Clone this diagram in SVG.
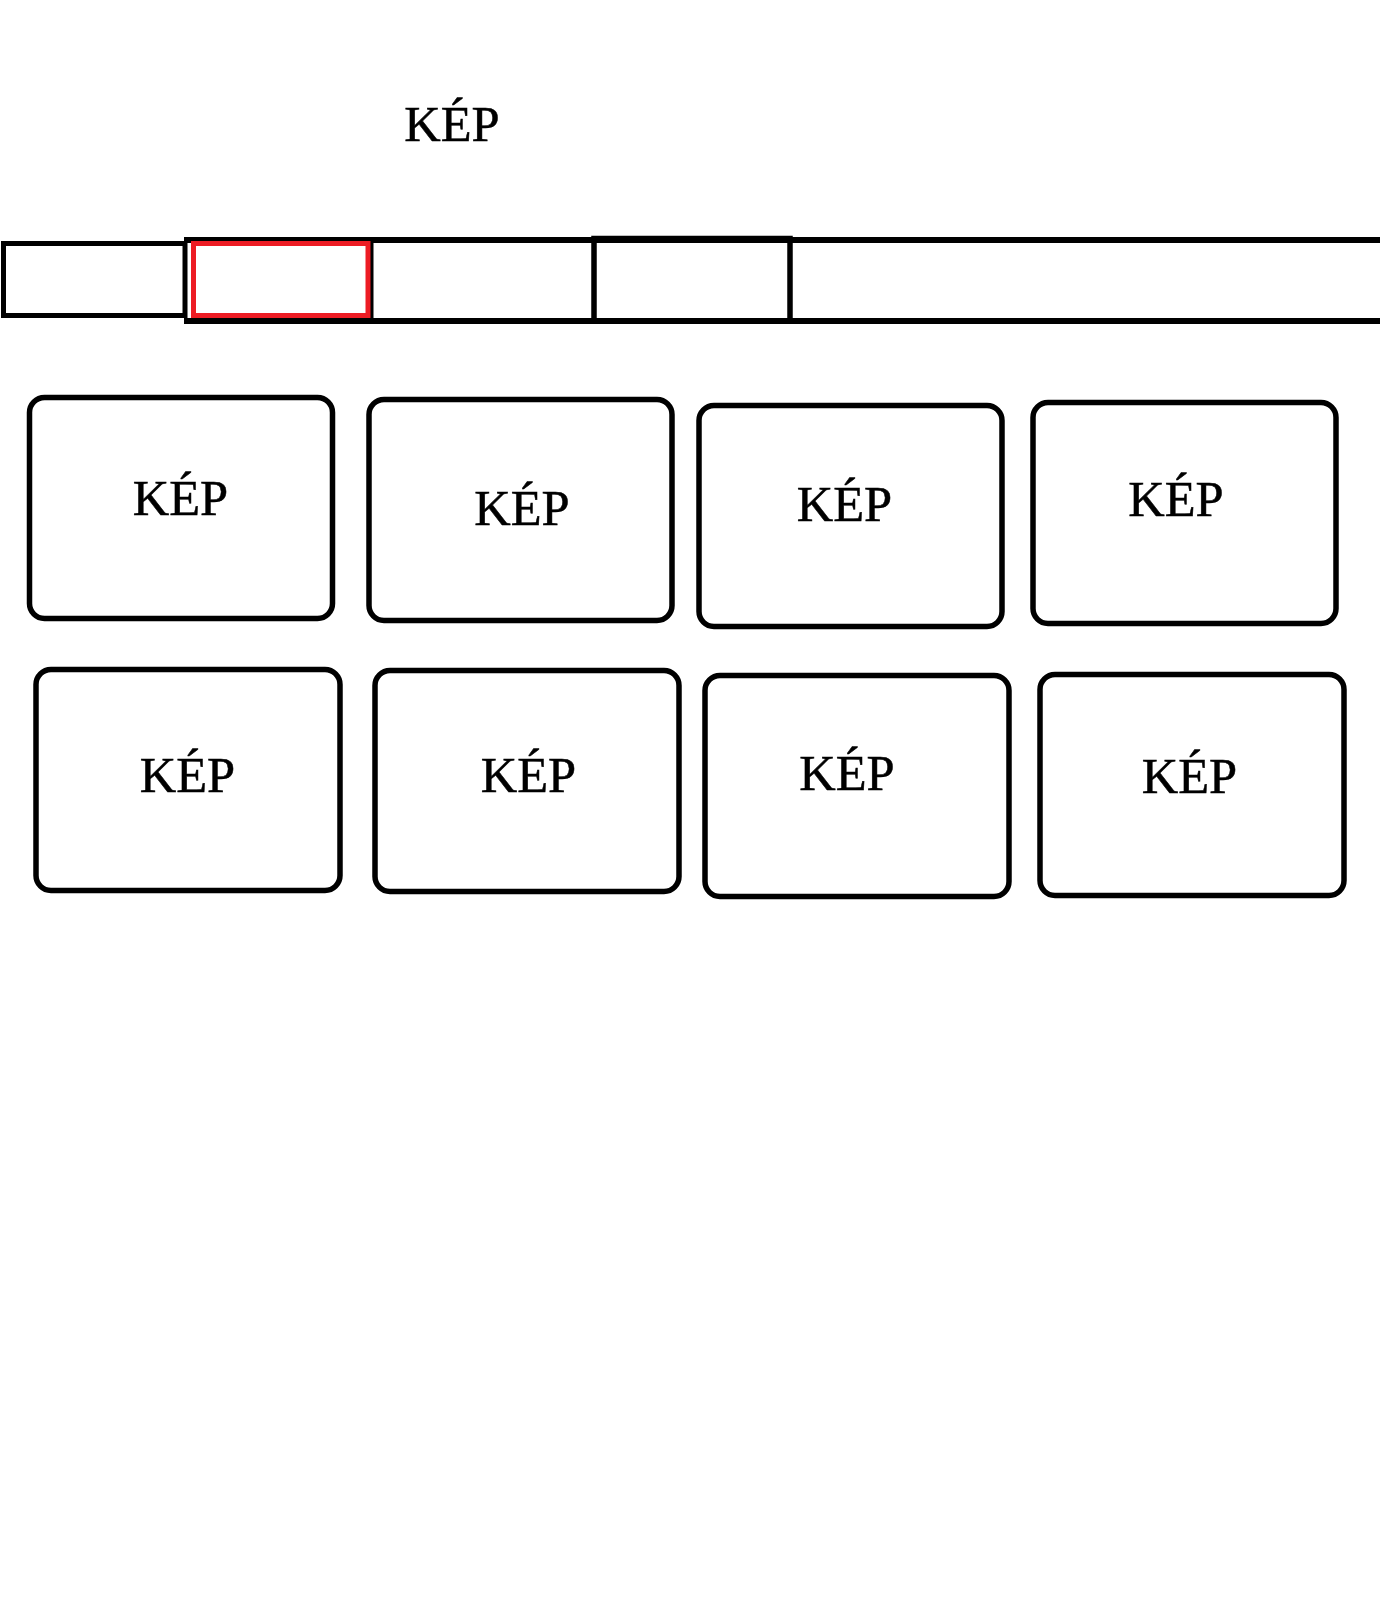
<svg xmlns="http://www.w3.org/2000/svg" width="1382" height="1608" viewBox="0 0 1382 1608">
<style>
.lbl{font-family:"Liberation Serif","Times New Roman",serif;font-size:50.5px;fill:#000;stroke:#000;stroke-width:0.5;text-anchor:middle}
.card{fill:#fff;stroke:#000;stroke-width:5.5}
.nav{fill:none;stroke:#000}
</style>
<rect width="1382" height="1608" fill="#fff"/>
<g id="title"><text class="lbl" x="452" y="141">KÉP</text></g>
<g id="navbar">
<path class="nav" stroke-width="6" d="M184 240H1380M184 321H1380"/>
<line class="nav" stroke-width="4" x1="371.5" y1="240" x2="371.5" y2="321"/>
<rect class="nav" stroke-width="5" x="3.5" y="243.5" width="181.5" height="72"/>
<rect class="nav" stroke-width="5.5" x="594" y="238.5" width="196" height="82.5"/>
<rect fill="none" stroke="#ED1C24" stroke-width="5" x="193.5" y="243.5" width="174.5" height="72"/>
</g>
<g id="card1"><rect class="card" x="29.5" y="397.5" width="303" height="221" rx="15"/><text class="lbl" x="180.5" y="515">KÉP</text></g>
<g id="card2"><rect class="card" x="369" y="399.5" width="303" height="221" rx="15"/><text class="lbl" x="522" y="525">KÉP</text></g>
<g id="card3"><rect class="card" x="699" y="405.5" width="303" height="221" rx="15"/><text class="lbl" x="844.5" y="521">KÉP</text></g>
<g id="card4"><rect class="card" x="1033" y="402.5" width="303" height="221" rx="15"/><text class="lbl" x="1176" y="516">KÉP</text></g>
<g id="card5"><rect class="card" x="36" y="669.5" width="304" height="221" rx="15"/><text class="lbl" x="187.5" y="792">KÉP</text></g>
<g id="card6"><rect class="card" x="375" y="670.5" width="304" height="221" rx="15"/><text class="lbl" x="528.5" y="792">KÉP</text></g>
<g id="card7"><rect class="card" x="705" y="675.5" width="304" height="221" rx="15"/><text class="lbl" x="847" y="790">KÉP</text></g>
<g id="card8"><rect class="card" x="1040" y="674.5" width="304" height="221" rx="15"/><text class="lbl" x="1189.5" y="793">KÉP</text></g>
<g id="connectors"/>
</svg>
